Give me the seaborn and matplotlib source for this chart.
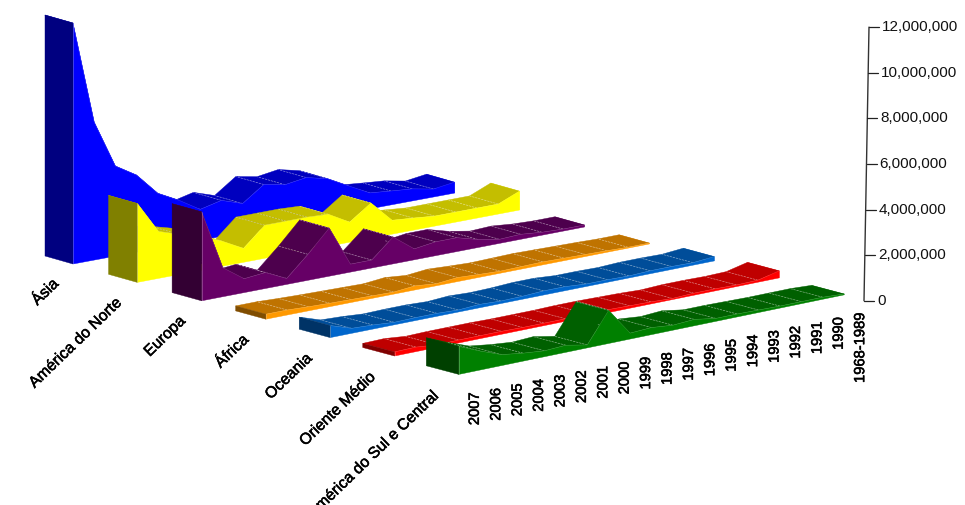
import numpy as np
import pandas as pd
import seaborn as sns
import matplotlib
matplotlib.use("Agg")
import matplotlib.pyplot as plt
import matplotlib.patheffects as pe
from matplotlib.collections import LineCollection

sns.set_theme(style="white")
plt.rcParams["font.family"] = ["Liberation Sans", "DejaVu Sans"]

periods = ["2007", "2006", "2005", "2004", "2003", "2002", "2001", "2000", "1999", "1998",
           "1997", "1996", "1995", "1994", "1993", "1992", "1991", "1990", "1968-1989"]

asia = [10570000, 6050000, 3950000, 3380000, 2410000, 1930000, 1360000, 1580000, 1270000, 1930000,
        1750000, 1890000, 1670000, 1180000, 700000, 610000, 530000, 350000, 480000]
america_norte = [3460000, 2060000, 1750000, 1490000, 1100000, 610000, 1450000, 1450000, 1450000, 1400000,
                 880000, 1540000, 610000, 530000, 440000, 440000, 440000, 440000, 830000]
europa = [3900000, 1270000, 610000, 700000, 260000, 1140000, 2110000, 350000, 350000, 1180000,
          480000, 610000, 610000, 350000, 180000, 220000, 130000, 90000, 90000]
africa = [220000, 220000, 180000, 150000, 130000, 110000, 90000, 180000, 90000, 180000,
          130000, 90000, 110000, 130000, 110000, 90000, 70000, 40000, 40000]
oceania = [530000, 220000, 180000, 110000, 130000, 130000, 90000, 150000, 110000, 130000,
           180000, 180000, 110000, 110000, 90000, 130000, 130000, 110000, 190000]
oriente_medio = [180000, 200000, 110000, 130000, 130000, 130000, 110000, 110000, 110000, 130000,
                 130000, 110000, 90000, 50000, 90000, 90000, 70000, 90000, 310000]
america_sul = [1230000, 830000, 480000, 350000, 260000, 310000, 130000, 1450000, 260000, 310000,
               220000, 280000, 130000, 130000, 110000, 90000, 90000, 90000, 40000]

region_names = ["Ásia", "América do Norte", "Europa", "África", "Oceania", "Oriente Médio",
                "América do Sul e Central"]
region_values = [asia, america_norte, europa, africa, oceania, oriente_medio, america_sul]
side_colors = ["#0000FF", "#FFFF00", "#660066", "#FF9900", "#0066CC", "#FF0000", "#008000"]
top_colors = ["#0000BF", "#C4BE00", "#4D004D", "#BF7300", "#004D99", "#BF0000", "#006000"]
cap_colors = ["#000080", "#808000", "#330033", "#804D00", "#003366", "#800000", "#004000"]
axis_ticks = [0, 2000000, 4000000, 6000000, 8000000, 10000000, 12000000]

PX_PER_UNIT = 273.6 / 12000000


def project(period, row, value, back=False):
    """Oblique projection of (period, region row, value) onto figure pixels."""
    period = np.asarray(period, dtype=float)
    value = np.asarray(value, dtype=float)
    x = 73 + 64.3 * row + (21.2 + 0.035 * row) * period
    y = 264 + 18.4 * row - (3.94 + 0.08 * row) * period - value * PX_PER_UNIT
    if back:
        x = x - (28 + 0.75 * row)
        y = y - (8 + 0.1 * row)
    return x, y


fig = plt.figure(figsize=(9.65, 5.05), dpi=100)
ax = fig.add_axes([0, 0, 1, 1])
ax.set_xlim(0, 965)
ax.set_ylim(505, 0)
ax.axis("off")

idx = np.arange(len(periods))
for row, (name, vals) in enumerate(zip(region_names, region_values)):
    vals = np.array(vals, dtype=float)
    fx, fy = project(idx, row, vals)
    bx, by = project(idx, row, vals, back=True)
    fx0, fy0 = project(idx, row, 0 * vals)
    bx0, by0 = project(idx, row, 0 * vals, back=True)

    # top surface, farthest segment first
    segs = []
    for i in idx[:-1][::-1]:
        ax.fill([fx[i], fx[i + 1], bx[i + 1], bx[i]], [fy[i], fy[i + 1], by[i + 1], by[i]],
                facecolor=top_colors[row], edgecolor=top_colors[row], lw=0.3, zorder=row * 10 + 1)
    for i in idx[1:-1]:
        segs.append([(fx[i], fy[i]), (bx[i], by[i])])
    ax.add_collection(LineCollection(segs, colors="white", linewidths=0.5, alpha=0.45,
                                     linestyles=(0, (3, 1.5)), zorder=row * 10 + 2))

    # right end of the ribbon, then its long front face and the near end cap
    ax.fill([fx[-1], bx[-1], bx0[-1], fx0[-1]], [fy[-1], by[-1], by0[-1], fy0[-1]],
            facecolor=side_colors[row], edgecolor="none", zorder=row * 10 + 0.5)
    ax.fill(np.r_[fx, fx0[::-1]], np.r_[fy, fy0[::-1]],
            facecolor=side_colors[row], edgecolor=side_colors[row], lw=0.3, zorder=row * 10 + 3)
    ax.fill([fx[0], bx[0], bx0[0], fx0[0]], [fy[0], by[0], by0[0], fy0[0]],
            facecolor=cap_colors[row], edgecolor=cap_colors[row], lw=0.3, zorder=row * 10 + 4)

    edge = pd.DataFrame({"px": fx, "py": fy})
    sns.lineplot(data=edge, x="px", y="py", sort=False, estimator=None, color="white", alpha=0.18,
                 lw=0.4, legend=False, ax=ax, zorder=row * 10 + 5)
    ax.plot([fx[0], fx0[0]], [fy[0], fy0[0]], color="white", alpha=0.35, lw=0.5, zorder=row * 10 + 5)

    # region name, running up to the near end of the ribbon
    lx, ly = project(0, row, 0)
    ax.text(lx - 22 - 0.9 * row, ly + 12 + 0.2 * row, name, rotation=44, rotation_mode="anchor",
            ha="right", va="top", fontsize=11.3, color="black", zorder=200,
            path_effects=[pe.withStroke(linewidth=0.4, foreground="black")])

ax.set_xlabel("")
ax.set_ylabel("")
ax.set_xlim(0, 965)
ax.set_ylim(505, 0)

# period labels sit below the front ribbon
for i, label in enumerate(periods):
    x0, y0 = project(i, 6, 0)
    ax.text(x0 + 16, y0 + 17.5, label, rotation=90, ha="center", va="top", fontsize=10.6,
            color="black", zorder=200,
            path_effects=[pe.withStroke(linewidth=0.4, foreground="black")])

# value axis at the far right
tick_y = 300.7 - np.array(axis_ticks) * PX_PER_UNIT
tick_x = 864 + (300.7 - tick_y) * (5 / 273.6)
ax.plot(tick_x, tick_y, color="#333333", lw=1.0, zorder=150)
for x, y, v in zip(tick_x, tick_y, axis_ticks):
    ax.plot([x, x + 10], [y, y], color="#222222", lw=0.9, zorder=150)
    ax.text(x + 13, y, f"{v:,}", ha="left", va="center", fontsize=11, color="#111111", zorder=200)

fig.savefig("out.png", dpi=100, facecolor="white")
